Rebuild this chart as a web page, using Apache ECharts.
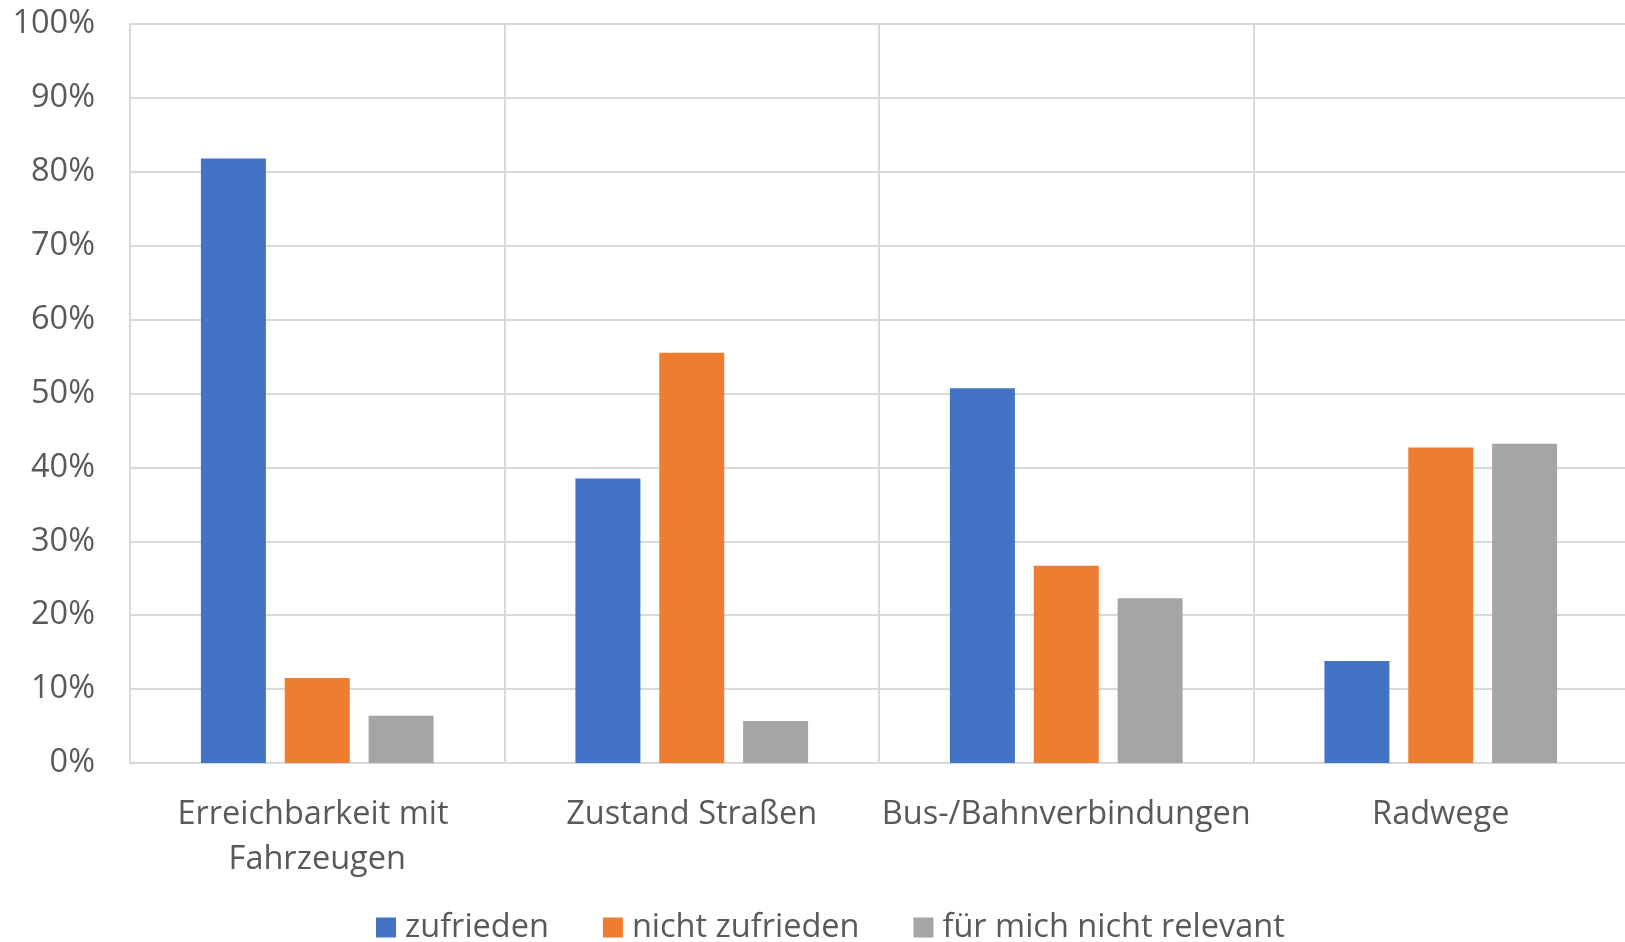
<!DOCTYPE html>
<html>
<head>
<meta charset="utf-8">
<script src="https://cdn.jsdelivr.net/npm/echarts@6/dist/echarts.min.js"></script>
<style>
html,body{margin:0;padding:0;background:#fff;overflow:hidden;}
#chart{width:1640px;height:942px;}
</style>
</head>
<body>
<div id="chart"></div>
<script>
const categories = ['Erreichbarkeit mit Fahrzeugen', 'Zustand Straßen', 'Bus-/Bahnverbindungen', 'Radwege'];
const seriesNames = ['zufrieden', 'nicht zufrieden', 'für mich nicht relevant'];
const zufrieden = [81.8, 38.5, 50.7, 13.8];
const nichtZufrieden = [11.5, 55.5, 26.7, 42.7];
const nichtRelevant = [6.4, 5.7, 22.3, 43.2];
const yTicks = [0, 10, 20, 30, 40, 50, 60, 70, 80, 90, 100];

const colors = ['#4472C4', '#ED7D31', '#A5A5A5'];
const textColor = '#595959';
const font = 'Open Sans';
const fs = 32.5;

const chart = echarts.init(document.getElementById('chart'), null, {renderer: 'canvas'});
const values = [zufrieden, nichtZufrieden, nichtRelevant];
chart.setOption({
  animation: false,
  color: colors,
  grid: {left: 130, top: 24, bottom: 179, width: 1498, containLabel: false},
  legend: {
    top: 911,
    left: 376,
    padding: 0,
    itemWidth: 20,
    itemHeight: 20,
    itemGap: 54,
    icon: 'rect',
    textStyle: {color: textColor, fontFamily: font, fontSize: fs, padding: [0,0,0,4]},
    data: seriesNames
  },
  xAxis: {
    type: 'category',
    data: categories,
    boundaryGap: true,
    axisLine: {show: true, lineStyle: {color: '#D9D9D9', width: 2}},
    axisTick: {show: false},
    splitLine: {show: true, lineStyle: {color: '#D9D9D9', width: 2}},
    axisLabel: {
      color: textColor, fontFamily: font, fontSize: fs, margin: 29,
      width: 372, overflow: 'break', lineHeight: 45, interval: 0
    }
  },
  yAxis: {
    type: 'value',
    min: yTicks[0],
    max: yTicks[yTicks.length - 1],
    interval: 10,
    axisLine: {show: true, lineStyle: {color: '#D9D9D9', width: 2}},
    axisTick: {show: false},
    splitLine: {show: true, lineStyle: {color: '#D9D9D9', width: 2}},
    axisLabel: {color: textColor, fontFamily: font, fontSize: fs, margin: 35, formatter: '{value}%'}
  },
  series: seriesNames.map((n, i) => ({
    name: n,
    type: 'bar',
    data: values[i],
    barWidth: 65,
    barGap: '29%',
    itemStyle: {color: colors[i]}
  }))
});
</script>
</body>
</html>
